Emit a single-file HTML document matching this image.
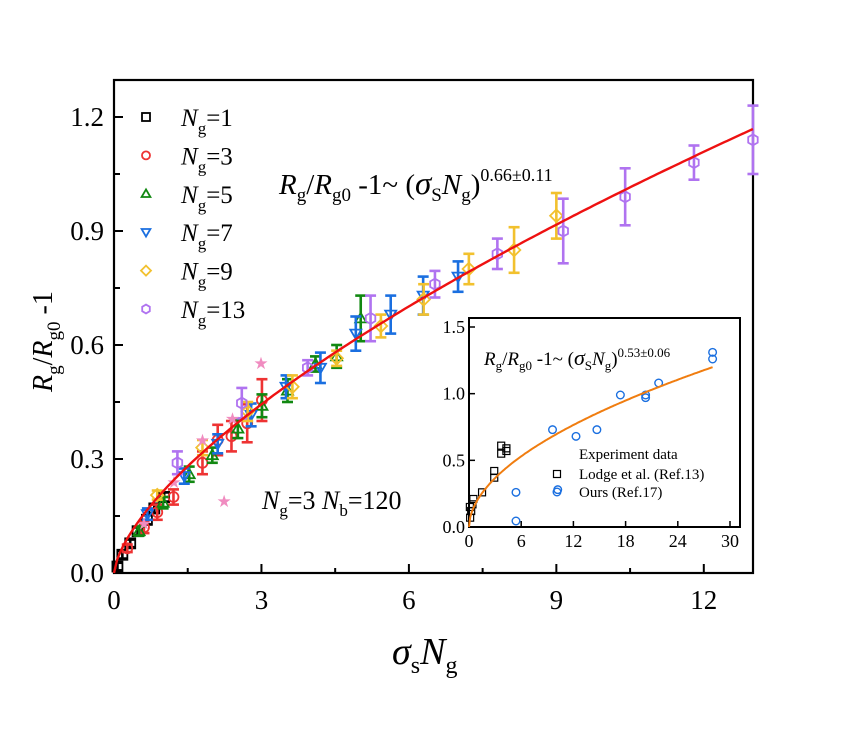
<!DOCTYPE html>
<html><head><meta charset="utf-8">
<style>
html,body{margin:0;padding:0;background:#fff;}
svg{display:block;font-family:"Liberation Serif",serif;}
</style></head>
<body>
<svg id="chart" width="846" height="742" viewBox="0 0 846 742" xmlns="http://www.w3.org/2000/svg">
<rect width="846" height="742" fill="#fff"/>
<g id="main"></g>
<g id="inset"></g>
</svg>
<script>
// ---------- main chart data ----------
const seriesNames = ["Ng=1","Ng=3","Ng=5","Ng=7","Ng=9","Ng=13"];
const seriesColors = ["#000000","#ee3333","#118811","#1a6fe0","#f2c12e","#b073f0"];
const seriesShapes = ["square","circle","up","down","diamond","hexagon"];
const s1x = [0.07,0.17,0.33,0.48,0.67,0.82,1.02];
const s1y = [0.017,0.048,0.078,0.11,0.14,0.17,0.2];
const s1e = [0.01,0.01,0.01,0.01,0.012,0.012,0.012];
const s3x = [0.27,0.61,0.88,1.21,1.8,2.11,2.39,2.71,3.01];
const s3y = [0.065,0.12,0.16,0.2,0.29,0.35,0.36,0.394,0.455];
const s3e = [0.01,0.015,0.02,0.02,0.03,0.04,0.04,0.05,0.055];
const s5x = [0.51,1.0,1.53,2.0,2.52,3.01,3.53,4.1,4.53,5.02];
const s5y = [0.11,0.185,0.26,0.31,0.38,0.44,0.48,0.55,0.57,0.67];
const s5e = [0.012,0.015,0.02,0.02,0.025,0.03,0.03,0.02,0.03,0.06];
const s7x = [0.68,1.43,2.11,2.79,3.5,4.2,4.92,5.63,6.29,7.0];
const s7y = [0.155,0.255,0.34,0.416,0.49,0.54,0.63,0.68,0.73,0.78];
const s7e = [0.015,0.02,0.025,0.03,0.03,0.04,0.045,0.05,0.05,0.04];
const s9x = [0.88,1.8,2.72,3.63,4.53,5.43,6.3,7.22,8.14,9.0];
const s9y = [0.205,0.33,0.425,0.49,0.565,0.65,0.72,0.8,0.85,0.94];
const s9e = [0.012,0.02,0.025,0.03,0.02,0.03,0.04,0.04,0.06,0.06];
const s13x = [1.29,2.6,3.94,5.22,6.53,7.8,9.14,10.4,11.8,13.0];
const s13y = [0.29,0.447,0.54,0.67,0.76,0.84,0.9,0.99,1.08,1.14];
const s13e = [0.03,0.04,0.02,0.06,0.035,0.04,0.085,0.075,0.045,0.09];
const starX = [0.61,1.22,1.8,2.41,2.99,2.24];
const starY = [0.13,0.24,0.35,0.407,0.553,0.19];
const fitCoef = 0.215, fitExp = 0.66;
const xTicks = [0,3,6,9,12];
const yTicks = [0.0,0.3,0.6,0.9,1.2];
const yTickLabels = ["0.0","0.3","0.6","0.9","1.2"];
// ---------- inset data ----------
const lodgeX = [0.1,0.13,0.25,0.4,0.5,1.5,2.9,2.9,3.7,3.7,4.3,4.3];
const lodgeY = [0.15,0.07,0.12,0.17,0.21,0.26,0.42,0.37,0.61,0.55,0.59,0.57];
const oursX = [5.4,5.4,9.6,10.2,12.3,14.7,17.4,20.3,20.3,21.8,28.0,28.0];
const oursY = [0.26,0.045,0.73,0.28,0.68,0.73,0.99,0.99,0.97,1.08,1.31,1.26];
const insetCoef = 0.205, insetExp = 0.53;
const insetXTicks = [0,6,12,18,24,30];
const insetYTicks = [0,0.5,1.0,1.5];
const insetYTickLabels = ["0.0","0.5","1.0","1.5"];

const NS="http://www.w3.org/2000/svg";
function mk(tag,attrs,parent){const e=document.createElementNS(NS,tag);for(const k in attrs)e.setAttribute(k,attrs[k]);parent.appendChild(e);return e;}
const X0=114,X1=753,Y0=573,Y1=80;
const sx=v=>X0+v*49.15, sy=v=>Y0-v*380;
const IX0=469,IX1=730,IY0=527,IY1=327;
const isx=v=>IX0+v*(IX1-IX0)/30, isy=v=>IY0-v*(IY0-IY1)/1.5;
const main=document.getElementById('main');

function marker(g,shape,x,y,color,r){
  let e;
  if(shape==="square") e=mk('rect',{x:x-r,y:y-r,width:2*r,height:2*r},g);
  else if(shape==="circle") e=mk('circle',{cx:x,cy:y,r:r},g);
  else if(shape==="up") e=mk('polygon',{points:`${x},${y-r*1.1} ${x-r*1.1},${y+r*0.8} ${x+r*1.1},${y+r*0.8}`},g);
  else if(shape==="down") e=mk('polygon',{points:`${x},${y+r*1.1} ${x-r*1.1},${y-r*0.8} ${x+r*1.1},${y-r*0.8}`},g);
  else if(shape==="diamond") e=mk('polygon',{points:`${x},${y-r*1.25} ${x+r*1.25},${y} ${x},${y+r*1.25} ${x-r*1.25},${y}`},g);
  else { let p=[];for(let i=0;i<6;i++){const a=Math.PI/6+i*Math.PI/3;p.push((x+r*1.1*Math.cos(a)).toFixed(1)+","+(y+r*1.1*Math.sin(a)).toFixed(1));} e=mk('polygon',{points:p.join(' ')},g);}
  e.setAttribute('fill','none');e.setAttribute('stroke',color);e.setAttribute('stroke-width','1.8');
  return e;
}

const frame=mk('rect',{x:X0,y:Y1,width:X1-X0,height:Y0-Y1,fill:'none',stroke:'#000','stroke-width':2.2},main);


xTicks.forEach(t=>{
  mk('line',{x1:sx(t),y1:Y0,x2:sx(t),y2:Y0-9,stroke:'#000','stroke-width':2},main);
  const tl=mk('text',{x:sx(t),y:Y0+36,'text-anchor':'middle','font-size':27},main);tl.textContent=t;
  
  
});
[1.5,4.5,7.5,10.5].forEach(t=>mk('line',{x1:sx(t),y1:Y0,x2:sx(t),y2:Y0-5,stroke:'#000','stroke-width':2},main));
yTicks.forEach((t,i)=>{
  mk('line',{x1:X0,y1:sy(t),x2:X0+9,y2:sy(t),stroke:'#000','stroke-width':2},main);
  const tl=mk('text',{x:X0-10,y:sy(t)+9,'text-anchor':'end','font-size':27},main);tl.textContent=yTickLabels[i];
  
  
});
[0.15,0.45,0.75,1.05].forEach(t=>mk('line',{x1:X0,y1:sy(t),x2:X0+6,y2:sy(t),stroke:'#000','stroke-width':2},main));

const sets=[[s1x,s1y,s1e],[s3x,s3y,s3e],[s5x,s5y,s5e],[s7x,s7y,s7e],[s9x,s9y,s9e],[s13x,s13y,s13e]];
sets.forEach((s,si)=>{
  const g=mk('g',{},main);
  
  
  s[0].forEach((xv,i)=>{
    const x=sx(xv),y=sy(s[1][i]),e=s[2][i]*380,c=seriesColors[si];
    mk('line',{x1:x,y1:y-e,x2:x,y2:y+e,stroke:c,'stroke-width':2.6},g);
    mk('line',{x1:x-5.5,y1:y-e,x2:x+5.5,y2:y-e,stroke:c,'stroke-width':2.6},g);
    mk('line',{x1:x-5.5,y1:y+e,x2:x+5.5,y2:y+e,stroke:c,'stroke-width':2.6},g);
    const m=marker(g,seriesShapes[si],x,y,c,5);
    
    
  });
});
const sg=mk('g',{},main);


starX.forEach((xv,i)=>{
  const t=mk('text',{x:sx(xv),y:sy(starY[i])+6,'text-anchor':'middle','font-size':17,fill:'#f08cc0','font-family':'DejaVu Sans, sans-serif'},sg);t.textContent='★';
  
  
});
let d='';for(let i=0;i<=200;i++){const xv=13*i/200;d+=(i?'L':'M')+sx(xv).toFixed(1)+','+sy(fitCoef*Math.pow(xv,fitExp)).toFixed(1);}
const fl=mk('path',{d:d,fill:'none',stroke:'#ee1111','stroke-width':2.4},main);



seriesNames.forEach((n,i)=>{
  const y=117+i*38.4;
  const m=marker(main,seriesShapes[i],146,y,seriesColors[i],4);
  
  
  const t=mk('text',{x:181,y:y+9,'font-size':25},main);
  t.innerHTML='<tspan font-style="italic">N</tspan><tspan font-size="17" dy="8">g</tspan><tspan dy="-8">='+n.split('=')[1]+'</tspan>';
  
  
});
const f=mk('text',{x:279,y:194,'font-size':29},main);
f.innerHTML='<tspan font-style="italic">R</tspan><tspan font-size="19" dy="7">g</tspan><tspan dy="-7">/</tspan><tspan font-style="italic">R</tspan><tspan font-size="19" dy="7">g0</tspan><tspan dy="-7"> -1~ (</tspan><tspan font-style="italic" font-size="33">σ</tspan><tspan font-size="19" dy="7">S</tspan><tspan dy="-7" font-style="italic">N</tspan><tspan font-size="19" dy="7">g</tspan><tspan dy="-7">)</tspan><tspan font-size="18" dy="-13">0.66±0.11</tspan>';


const nb=mk('text',{x:262,y:509,'font-size':26},main);
nb.innerHTML='<tspan font-style="italic">N</tspan><tspan font-size="17" dy="7">g</tspan><tspan dy="-7">=3  </tspan><tspan font-style="italic">N</tspan><tspan font-size="17" dy="7">b</tspan><tspan dy="-7">=120</tspan>';


const xt=mk('text',{x:392,y:664,'font-size':38},main);
xt.innerHTML='<tspan font-style="italic">σ</tspan><tspan font-size="24" dy="9">s</tspan><tspan font-style="italic" dy="-9">N</tspan><tspan font-size="24" dy="9">g</tspan>';


const yt=mk('text',{x:0,y:0,'font-size':28,transform:'translate(52,392) rotate(-90)'},main);
yt.innerHTML='<tspan font-style="italic">R</tspan><tspan font-size="19" dy="8">g</tspan><tspan dy="-8">/</tspan><tspan font-style="italic">R</tspan><tspan font-size="19" dy="8">g0</tspan><tspan dy="-8"> -1</tspan>';



// ---------- inset ----------
const ins=document.getElementById('inset');


mk('rect',{x:IX0,y:IY1-9,width:IX1-IX0+10,height:IY0-IY1+9,fill:'#fff'},ins);
const ifr=mk('rect',{x:IX0,y:IY1-9,width:IX1-IX0+10,height:IY0-IY1+9,fill:'none',stroke:'#000','stroke-width':2},ins);


insetXTicks.forEach(t=>{
  mk('line',{x1:isx(t),y1:IY0,x2:isx(t),y2:IY0-6,stroke:'#000','stroke-width':1.5},ins);
  const tl=mk('text',{x:isx(t),y:IY0+20,'text-anchor':'middle','font-size':18},ins);tl.textContent=t;
  
  
});
insetYTicks.forEach((t,i)=>{
  mk('line',{x1:IX0,y1:isy(t),x2:IX0+6,y2:isy(t),stroke:'#000','stroke-width':1.5},ins);
  const tl=mk('text',{x:IX0-4,y:isy(t)+6,'text-anchor':'end','font-size':18},ins);tl.textContent=insetYTickLabels[i];
  
  
});
lodgeX.forEach((xv,i)=>{
  const m=mk('rect',{x:isx(xv)-3.5,y:isy(lodgeY[i])-3.5,width:7,height:7,fill:'none',stroke:'#000','stroke-width':1.2},ins);
  
  
});
oursX.forEach((xv,i)=>{
  const m=mk('circle',{cx:isx(xv),cy:isy(oursY[i]),r:3.8,fill:'none',stroke:'#1a6fe0','stroke-width':1.4},ins);
  
  
});
let d2='';for(let i=0;i<=200;i++){const xv=28*i/200;d2+=(i?'L':'M')+isx(xv).toFixed(1)+','+isy(insetCoef*Math.pow(xv,insetExp)).toFixed(1);}
const ifl=mk('path',{d:d2,fill:'none',stroke:'#f07d10','stroke-width':2},ins);


const itf=mk('text',{x:484,y:365,'font-size':19},ins);
itf.innerHTML='<tspan font-style="italic">R</tspan><tspan font-size="13" dy="5">g</tspan><tspan dy="-5">/</tspan><tspan font-style="italic">R</tspan><tspan font-size="13" dy="5">g0</tspan><tspan dy="-5"> -1~ (</tspan><tspan font-style="italic" font-size="22">σ</tspan><tspan font-size="13" dy="5">S</tspan><tspan dy="-5" font-style="italic">N</tspan><tspan font-size="13" dy="5">g</tspan><tspan dy="-5">)</tspan><tspan font-size="13" dy="-8">0.53±0.06</tspan>';


const le=mk('text',{x:579,y:459,'font-size':15},ins);le.textContent='Experiment data';


mk('rect',{x:553.5,y:470.5,width:7,height:7,fill:'none',stroke:'#000','stroke-width':1.2},ins);
const l1=mk('text',{x:579,y:479,'font-size':15},ins);l1.textContent='Lodge et al. (Ref.13)';


mk('circle',{cx:557,cy:492,r:3.8,fill:'none',stroke:'#1a6fe0','stroke-width':1.4},ins);
const l2=mk('text',{x:579,y:497,'font-size':15},ins);l2.textContent='Ours (Ref.17)';


</script>
</body></html>
